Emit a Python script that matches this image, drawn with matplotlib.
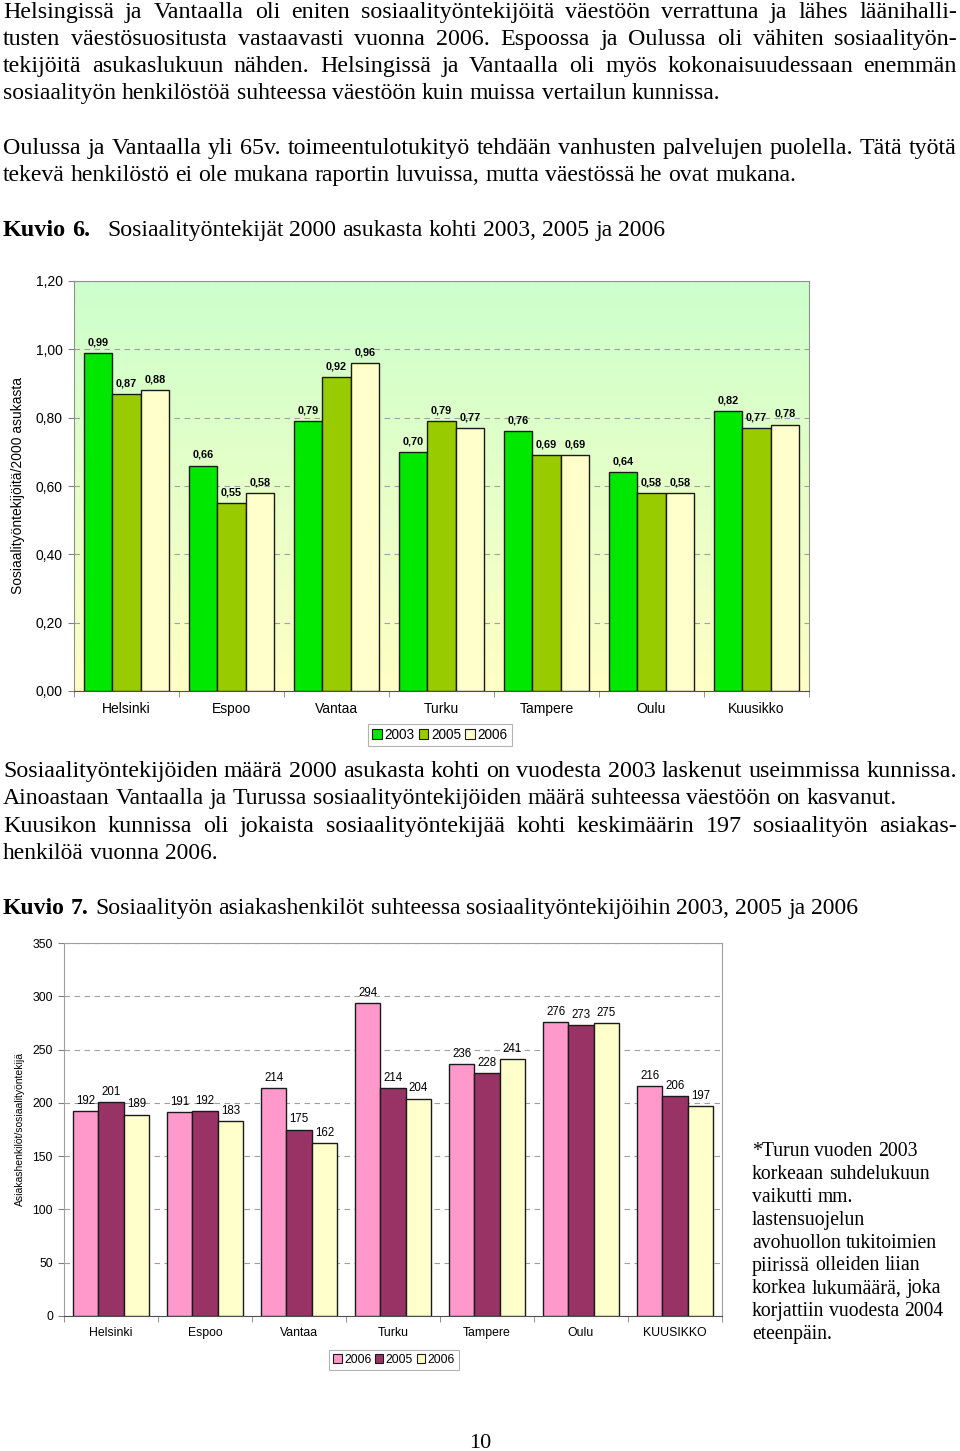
# page with two grouped bar charts (Kuvio 6 and Kuvio 7) and the text around them

import numpy as np
import matplotlib.pyplot as plt
from matplotlib.patches import Patch
from matplotlib.colors import LinearSegmentedColormap

W, H = 960, 1451

cities1 = ['Helsinki', 'Espoo', 'Vantaa', 'Turku', 'Tampere', 'Oulu', 'Kuusikko']
years1 = ['2003', '2005', '2006']
v2003 = [0.99, 0.66, 0.79, 0.70, 0.76, 0.64, 0.82]
v2005 = [0.87, 0.55, 0.92, 0.79, 0.69, 0.58, 0.77]
v2006 = [0.88, 0.58, 0.96, 0.77, 0.69, 0.58, 0.78]
yticks1 = [0.0, 0.2, 0.4, 0.6, 0.8, 1.0, 1.2]

cities2 = ['Helsinki', 'Espoo', 'Vantaa', 'Turku', 'Tampere', 'Oulu', 'KUUSIKKO']
years2 = ['2006', '2005', '2006']
s1 = [192, 191, 214, 294, 236, 276, 216]
s2 = [201, 192, 175, 214, 228, 273, 206]
s3 = [189, 183, 162, 204, 241, 275, 197]
yticks2 = [0, 50, 100, 150, 200, 250, 300, 350]

cols1 = ['#00e800', '#99cc00', '#ffffcc']
cols2 = ['#ff99cc', '#993366', '#ffffcc']

SANS = 'Liberation Sans'
SERIF = 'Liberation Serif'

fig = plt.figure(figsize=(9.6, 14.51), dpi=100)
renderer = fig.canvas.get_renderer()


def put_line(s, base, x0, x1, size=17.3, weight='normal', justify=True):
    # place one text line between x0 and x1 (pixels), baseline at base
    words = s.split(' ')
    ts = [fig.text(0, 1 - base / H, wd, fontsize=size, family=SERIF,
                   weight=weight, va='baseline', ha='left') for wd in words]

    def measure(sz):
        for t in ts:
            t.set_fontsize(sz)
        return [t.get_window_extent(renderer).width for t in ts]

    widths = measure(size)
    space = size * 0.25 * 100 / 72
    natural = sum(widths) + space * (len(words) - 1)
    target = x1 - x0
    if natural > target or not justify:
        sz = size * min(max(target / natural, 0.8), 1.1)
        widths = measure(sz)
        space = sz * 0.25 * 100 / 72
    if justify and len(words) > 1:
        gap = (target - sum(widths)) / (len(words) - 1)
    else:
        gap = space
    x = x0
    for t, wd in zip(ts, widths):
        t.set_x(x / W)
        x += wd + gap


# ---- text above chart 1
put_line('Helsingissä ja Vantaalla oli eniten sosiaalityöntekijöitä väestöön verrattuna ja lähes läänihalli-', 18, 3, 957)
put_line('tusten väestösuositusta vastaavasti vuonna 2006. Espoossa ja Oulussa oli vähiten sosiaalityön-', 45, 3, 957)
put_line('tekijöitä asukaslukuun nähden. Helsingissä ja Vantaalla oli myös kokonaisuudessaan enemmän', 72, 3, 957)
put_line('sosiaalityön henkilöstöä suhteessa väestöön kuin muissa vertailun kunnissa.', 99, 3, 722, justify=False)
put_line('Oulussa ja Vantaalla yli 65v. toimeentulotukityö tehdään vanhusten palvelujen puolella. Tätä työtä', 154, 3, 957)
put_line('tekevä henkilöstö ei ole mukana raportin luvuissa, mutta väestössä he ovat mukana.', 181, 3, 797, justify=False)
put_line('Kuvio 6.', 236, 3, 90, weight='bold', justify=False)
put_line('Sosiaalityöntekijät 2000 asukasta kohti 2003, 2005 ja 2006', 236, 107, 668, justify=False)

# ---- chart 1
ax1 = fig.add_axes([74 / W, 1 - 691 / H, (809 - 74) / W, (691 - 281) / H])
ax1.set_xlim(-0.5, len(cities1) - 0.5)
ax1.set_ylim(0, 1.2)
grad = LinearSegmentedColormap.from_list('bg', ['#ffffc4', '#ccffcc'])
ax1.imshow(np.linspace(0, 1, 256).reshape(-1, 1), cmap=grad, origin='lower',
           extent=[-0.5, len(cities1) - 0.5, 0, 1.2], aspect='auto', zorder=0)
ax1.set_axisbelow(True)
ax1.yaxis.grid(True, linestyle=(0, (5, 4)), color='#a0a0a0', lw=0.8)

x = np.arange(len(cities1))
w = 0.27
for i, vals in enumerate([v2003, v2005, v2006]):
    bars = ax1.bar(x + (i - 1) * w, vals, w, color=cols1[i], edgecolor='#1a1a1a',
                   lw=1, zorder=3)
    for b, v in zip(bars, vals):
        ax1.annotate(f'{v:.2f}'.replace('.', ','), (b.get_x() + b.get_width() / 2, v),
                     xytext=(0, 4), textcoords='offset points', ha='center',
                     va='bottom', fontsize=7.8, weight='bold', family=SANS)

ax1.set_yticks(yticks1)
ax1.set_yticklabels([f'{t:.2f}'.replace('.', ',') for t in yticks1], fontsize=10, family=SANS)
ax1.set_xticks(x)
ax1.set_xticklabels(cities1, fontsize=10, family=SANS)
ax1.set_xticks(np.arange(len(cities1) + 1) - 0.5, minor=True)
ax1.tick_params(axis='x', which='major', length=0, pad=8)
ax1.tick_params(axis='x', which='minor', length=4, color='#808080')
ax1.tick_params(axis='y', length=4, color='#808080', pad=4)
for sp in ['left', 'top', 'right']:
    ax1.spines[sp].set_color('#909090')
ax1.spines['bottom'].set_color('#505050')
ax1.set_ylabel('Sosiaalityöntekijöitä/2000 asukasta', fontsize=10, family=SANS)
ax1.yaxis.set_label_coords((25 - 74) / (809 - 74), 0.5)

h1 = [Patch(facecolor=c, edgecolor='#1a1a1a', lw=0.8) for c in cols1]
leg1 = fig.legend(h1, years1, loc='center', bbox_to_anchor=(440 / W, 1 - 735 / H), ncol=3,
                  handlelength=0.7, handleheight=0.7, handletextpad=0.2,
                  columnspacing=0.3, borderpad=0.3, fancybox=False, prop={'family': SANS, 'size': 9.8})
leg1.get_frame().set_edgecolor('#a0a0a0')
leg1.get_frame().set_linewidth(0.8)

# ---- text between charts
put_line('Sosiaalityöntekijöiden määrä 2000 asukasta kohti on vuodesta 2003 laskenut useimmissa kunnissa.', 777, 3, 957)
put_line('Ainoastaan Vantaalla ja Turussa sosiaalityöntekijöiden määrä suhteessa väestöön on kasvanut.', 804, 3, 900, justify=False)
put_line('Kuusikon kunnissa oli jokaista sosiaalityöntekijää kohti keskimäärin 197 sosiaalityön asiakas-', 832, 3, 957)
put_line('henkilöä vuonna 2006.', 859, 3, 218, justify=False)
put_line('Kuvio 7.', 914, 3, 88, weight='bold', justify=False)
put_line('Sosiaalityön asiakashenkilöt suhteessa sosiaalityöntekijöihin 2003, 2005 ja 2006', 914, 95, 860, justify=False)

# ---- chart 2
ax2 = fig.add_axes([64 / W, 1 - 1316 / H, (722 - 64) / W, (1316 - 943) / H])
ax2.set_xlim(-0.5, len(cities2) - 0.5)
ax2.set_ylim(0, 350)
ax2.set_axisbelow(True)
ax2.yaxis.grid(True, linestyle=(0, (5, 4)), color='#a0a0a0', lw=0.8)

x2 = np.arange(len(cities2))
for i, vals in enumerate([s1, s2, s3]):
    bars = ax2.bar(x2 + (i - 1) * w, vals, w, color=cols2[i], edgecolor='#1a1a1a',
                   lw=1, zorder=3)
    for b, v in zip(bars, vals):
        ax2.annotate(str(v), (b.get_x() + b.get_width() / 2, v),
                     xytext=(0, 3), textcoords='offset points', ha='center',
                     va='bottom', fontsize=8.3, family=SANS)

ax2.set_yticks(yticks2)
ax2.set_yticklabels([str(t) for t in yticks2], fontsize=8.8, family=SANS)
ax2.set_xticks(x2)
ax2.set_xticklabels(cities2, fontsize=8.8, family=SANS)
ax2.set_xticks(np.arange(len(cities2) + 1) - 0.5, minor=True)
ax2.tick_params(axis='x', which='major', length=0, pad=8)
ax2.tick_params(axis='x', which='minor', length=4, color='#808080')
ax2.tick_params(axis='y', length=4, color='#808080', pad=4)
for sp in ['left', 'top', 'right']:
    ax2.spines[sp].set_color('#a0a0a0')
ax2.spines['bottom'].set_color('#505050')
ax2.set_ylabel('Asiakashenkilöt/sosiaalityöntekijä', fontsize=7.5, family=SANS)
ax2.yaxis.set_label_coords((25 - 64) / (722 - 64), 0.5)

h2 = [Patch(facecolor=c, edgecolor='#1a1a1a', lw=0.8) for c in cols2]
leg2 = fig.legend(h2, years2, loc='center', bbox_to_anchor=(394 / W, 1 - 1360 / H), ncol=3,
                  handlelength=0.7, handleheight=0.7, handletextpad=0.2,
                  columnspacing=0.3, borderpad=0.3, fancybox=False, prop={'family': SANS, 'size': 8.8})
leg2.get_frame().set_edgecolor('#a0a0a0')
leg2.get_frame().set_linewidth(0.8)

# ---- footnote beside chart 2
note = ['*Turun vuoden 2003', 'korkeaan suhdelukuun', 'vaikutti mm.', 'lastensuojelun',
        'avohuollon tukitoimien', 'piirissä olleiden liian', 'korkea lukumäärä, joka',
        'korjattiin vuodesta 2004', 'eteenpäin.']
note_end = [918, 931, 853, 866, 938, 919, 943, 944, 833]
for k, (ln, xe) in enumerate(zip(note, note_end)):
    put_line(ln, 1156 + k * 22.9, 752, xe, size=15, justify=False)

fig.text(480 / W, 1 - 1448 / H, '10', fontsize=16, family=SERIF, ha='center', va='baseline')

fig.savefig('out.png', dpi=100)
